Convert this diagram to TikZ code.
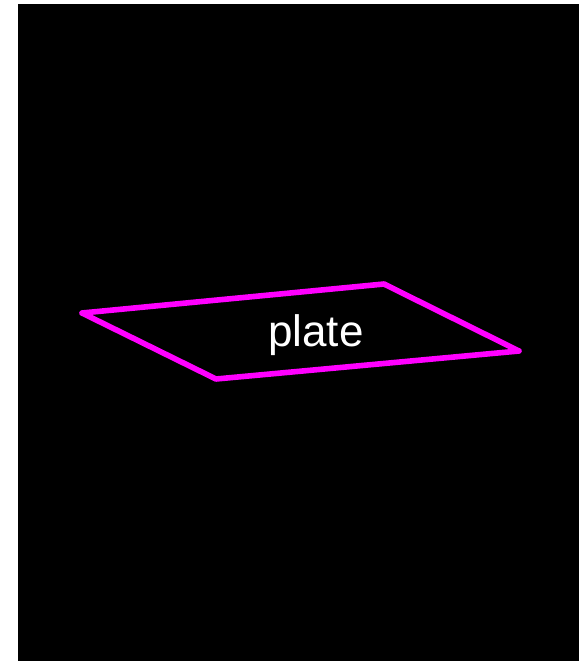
\documentclass[tikz,border=0pt]{standalone}
\usepackage{fontspec}
\setmainfont{Liberation Sans}
\begin{document}
\begin{tikzpicture}[x=0.75pt,y=-0.75pt,
  platestyle/.style={draw={rgb,255:red,255;green,0;blue,255},line width=4.2pt,line join=round,line cap=round},
  labelstyle/.style={text=white,font=\fontsize{33pt}{39pt}\selectfont,inner sep=0pt,anchor=base}]
\useasboundingbox (0,0) rectangle (579,661);
\fill[white] (0,0) rectangle (579,661);
\fill[black] (18,4) rectangle (579,661);
\coordinate (pl) at (82,313);
\coordinate (pt) at (384,284);
\coordinate (pr) at (519,351);
\coordinate (pb) at (216,379);
\draw[platestyle] (pl) -- (pt) -- (pr) -- (pb) -- cycle;
\node[labelstyle] (lbl) at (316,346) {plate};
\end{tikzpicture}
\end{document}
